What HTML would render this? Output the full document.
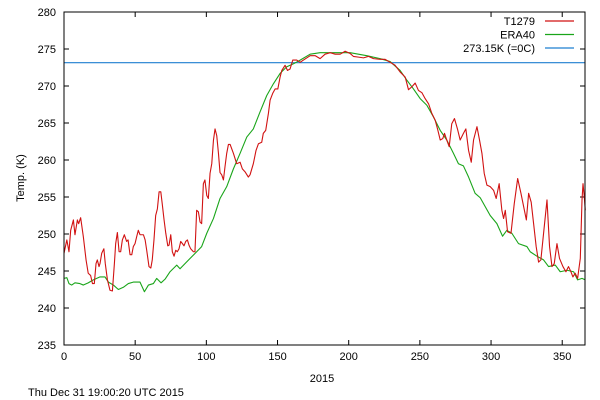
<!DOCTYPE html>
<html><head><meta charset="utf-8">
<style>
html,body{margin:0;padding:0;background:#fff;}
svg{display:block;font-family:"Liberation Sans",sans-serif;}
</style></head>
<body>
<svg id="chart" width="600" height="400" viewBox="0 0 600 400"></svg>
<script>
const xTicks=[0,50,100,150,200,250,300,350];
const yTicks=[235,240,245,250,255,260,265,270,275,280];
const redDays=[0,2,3.5,4.7,6.6,7.7,9.4,10.3,11.7,13.6,15.5,17,18.7,20,21.3,22.5,23.4,24.6,25.3,26.5,28,29,30.5,32.3,34,35.4,36.3,37.5,38.7,39.8,41,42.4,44,45,46.4,47.6,48.7,49.9,51,52.2,53.4,55.8,57,58.1,59.7,61,62,63.2,64.4,65.6,66.8,68,69,70.3,71.5,72.9,73.8,75,76.1,77.3,78.5,79.6,80.8,82,83.2,84.3,85.5,86.7,87.8,89,90.9,92,93.2,94.4,95.6,96.7,97.9,99,100.3,101.4,102.6,103.8,105,106.1,107.3,108.5,109.6,110.8,112,113.1,114.3,115.5,116.7,119,121.3,123.7,125.3,127.2,129.5,130.7,133,134.9,136.6,138.9,140,141.7,143.6,144.8,146.6,148.3,150.2,151.8,153,155.3,157,158.8,160.7,163.5,165.9,168.2,172.9,176.4,179.9,183.4,187,190.5,194,197.5,201,203.3,206.9,210.4,213.9,217.4,222.1,225.6,229.1,232.6,236.1,239.7,242,244.4,246.7,249,251.4,253.7,256.1,258.4,260.7,262.4,264.3,266.1,267.3,268.9,270.6,272.4,274.3,276.4,278.3,280.6,282.3,284.2,286.1,287.7,290.1,291.9,293.6,295.2,297.1,299.4,301.8,303.6,305.7,307.6,308.8,310,311.6,314,316.3,318.7,321,322.9,324.8,326.4,328.2,329.9,331.7,333.4,335,336.9,339.3,341.1,342.8,344.4,346.3,348.1,350.5,352.6,354.4,356.1,357.5,359.1,360.8,362.7,363.9,364.6,365.5,366.2];
const redTemps=[247.4,249.2,247.6,250.5,251.9,249.9,251.9,251.4,252.2,249.6,246.5,244.7,244.4,243.3,243.3,246,246.5,245.6,246,247.4,248,246,243.8,242.4,242.3,246,248.7,250.2,247.6,247.6,249.2,249.9,249,249.2,247.2,247.2,248.3,248.7,249.6,250.5,249.9,249.9,249.2,247.8,245.6,245.4,246.5,249.2,252.5,253.4,255.7,255.7,254.1,251.9,250.1,248.4,248.5,249.9,247.6,247,247.8,247.6,248,249,248.7,248.4,249,249.2,248.5,248,247.6,247.6,253.2,253,251.6,251.4,256.8,257.3,255.2,254.8,258.2,259.5,262.7,264.2,263.3,260.9,258.3,258,257.3,259.1,260.9,262.1,262.1,260.9,259.5,259.7,258.8,258.4,257.7,258,259.5,261.3,262.2,262.4,263.6,264,266.3,268.1,269,269.6,269.6,271.2,272.1,272.8,272.1,272.3,273.5,273.5,273.2,273.5,274.1,274.1,273.7,274.3,274.5,274.3,274.3,274.7,274.4,274,273.9,273.8,274,273.7,273.6,273.6,273.2,272.8,271.9,271.2,269.5,269.9,270.4,269.4,269.1,268.3,267.6,266.3,265.4,264.2,262.7,262.9,263.6,262.7,261.8,264.9,265.6,264.2,262.7,263.6,264.2,261.3,259.7,262.7,264.5,262.7,260.9,258.2,256.6,256.4,255.9,254.8,256.8,253.2,252.1,253.2,250.3,250.1,254.1,257.5,255.5,253.7,251.9,255.5,254.3,251.4,248.3,246.2,246.5,250.1,254.6,248.3,245.6,246,248.7,246.7,245.6,244.9,245.6,244.9,244.2,244.7,244,246.7,254.6,256.8,255,253.2];
const greenDays=[0,2,3.5,5.4,7.7,11.2,13.6,17,20.6,25.3,28.8,31.2,34.7,38.2,41.7,45.2,48.7,53.4,56.5,59.3,62.8,65.1,68.2,71,74.5,79.2,81.5,85,88.6,93.2,96.7,100.3,105,109.6,114.3,119,123.7,128.4,133,137.7,142.4,147.1,151.8,156.5,161.2,165.9,172.9,179.9,189.3,201,212.7,222.1,229.1,236.1,240.8,245.5,250.2,254.9,259.6,264.3,268.9,273.6,277.1,280.6,284.2,288.8,292.4,295.9,299.4,304.1,308.1,311.1,314.6,319.3,325.2,327.5,332.2,336.9,340.4,345.1,348.6,353.4,358,360.8,363.9,366.2];
const greenTemps=[244,244.1,243.3,243.1,243.4,243.3,243.1,243.4,243.8,244.2,244.2,243.5,243.1,242.5,242.8,243.3,243.5,243.5,242.2,243.1,243.3,244,243.4,243.9,244.9,245.8,245.3,246,246.7,247.6,248.3,250.1,252.1,254.8,256.4,258.8,260.9,263.1,264.2,266.5,268.7,270.3,271.7,272.6,273,273.5,274.3,274.5,274.5,274.5,274.1,273.7,273.3,272.1,270.8,269.6,268.3,267.4,265.8,264,262.7,260.9,259.5,259.2,257.7,255.5,254.9,253.7,252.5,251.4,249.7,250.5,250.1,248.7,248.3,247.6,247,246.5,245.6,245.8,244.9,245.1,244.9,243.8,244,243.8];
const freezeK=273.15;
const legendLabels=["T1279","ERA40","273.15K (=0C)"];

const L=64,R=585,T=12,B=345,XMIN=0,XMAX=366,YMIN=235,YMAX=280;
const sx=v=>L+(v-XMIN)/(XMAX-XMIN)*(R-L);
const sy=v=>B-(v-YMIN)/(YMAX-YMIN)*(B-T);
const svg=document.getElementById('chart');
const NS='http://www.w3.org/2000/svg';
function mk(tag,attrs,text){const e=document.createElementNS(NS,tag);for(const k in attrs)e.setAttribute(k,attrs[k]);if(text!==undefined)e.textContent=text;svg.appendChild(e);return e;}

xTicks.forEach(t=>{
  const x=sx(t);
  const tk=mk('path',{d:`M${x},${B}v-5M${x},${T}v5`,stroke:'#000','stroke-width':1,fill:'none'});
  
  
  const lb=mk('text',{x:x,y:B+15,'font-size':11,'text-anchor':'middle',fill:'#000'},String(t));
  
  
});
yTicks.forEach(t=>{
  const y=sy(t);
  const tk=mk('path',{d:`M${L},${y}h5M${R},${y}h-5`,stroke:'#000','stroke-width':1,fill:'none'});
  
  
  const lb=mk('text',{x:L-8,y:y+4,'font-size':11,'text-anchor':'end',fill:'#000'},String(t));
  
  
});

const fz=mk('line',{x1:L,x2:R,y1:sy(freezeK),y2:sy(freezeK),stroke:'#1f7fd0','stroke-width':1.2});



function series(days,temps,color,name){
  const d=days.map((v,i)=>(i?'L':'M')+sx(v).toFixed(2)+','+sy(temps[i]).toFixed(2)).join('');
  const p=mk('path',{d:d,stroke:color,'stroke-width':1.1,fill:'none','stroke-linejoin':'round'});
  
  
}
series(greenDays,greenTemps,'#1aa51a','era40-line');
series(redDays,redTemps,'#d11212','t1279-line');

const fr=mk('rect',{x:L,y:T,width:R-L,height:B-T,fill:'none',stroke:'#000','stroke-width':1});



const lc=['#d11212','#1aa51a','#1f7fd0'];
legendLabels.forEach((lab,i)=>{
  const y=21+i*13.5;
  const t=mk('text',{x:535,y:y+4,'font-size':11,'text-anchor':'end',fill:'#000'},lab);
  
  
  const l=mk('line',{x1:545,x2:574,y1:y,y2:y,stroke:lc[i],'stroke-width':1.2});
  
  
});

const yt=mk('text',{x:24,y:178,'font-size':11,'text-anchor':'middle',transform:'rotate(-90 24 178)',fill:'#000'},'Temp. (K)');


const xt=mk('text',{x:322,y:382,'font-size':11,'text-anchor':'middle',fill:'#000'},'2015');


const ts=mk('text',{x:28,y:396,'font-size':11,fill:'#000'},'Thu Dec 31 19:00:20 UTC 2015');


</script>
</body></html>
